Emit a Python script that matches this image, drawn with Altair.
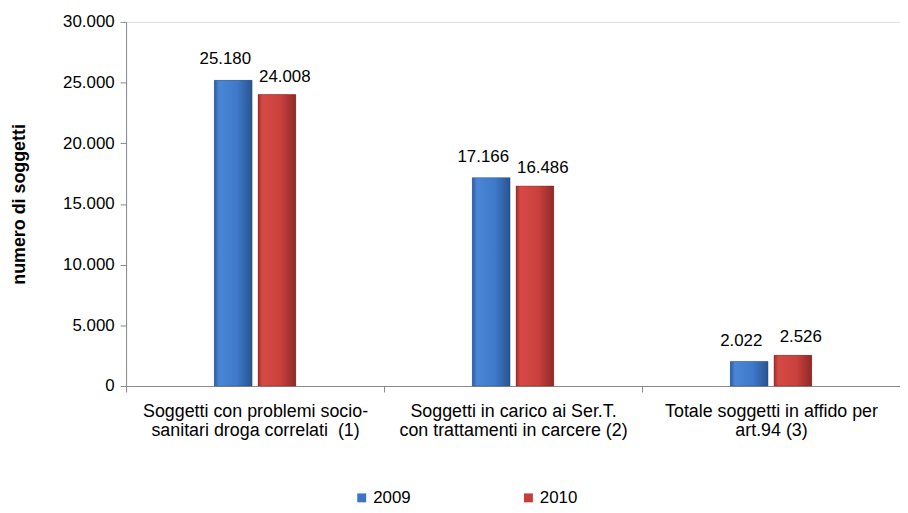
import altair as alt
import pandas as pd

categories = [
    "Soggetti con problemi socio-|sanitari droga correlati \u00a0(1)",
    "Soggetti in carico ai Ser.T.|con trattamenti in carcere (2)",
    "Totale soggetti in affido per|art.94 (3)",
]
years = ["2009", "2010"]
values_2009 = [25180, 17166, 2022]
values_2010 = [24008, 16486, 2526]

rows = []
for c, a, b in zip(categories, values_2009, values_2010):
    rows.append({"cat": c, "year": "2009", "v": a})
    rows.append({"cat": c, "year": "2010", "v": b})
df = pd.DataFrame(rows)

FONT = "Liberation Sans"
FS = 17

color_scale = alt.Scale(domain=years, range=["#3d74c6", "#c63d3a"])

blue_grad = alt.Gradient(
    gradient="linear", x1=0, x2=1, y1=0, y2=0,
    stops=[
        alt.GradientStop(offset=0, color="#2c5ca3"),
        alt.GradientStop(offset=0.12, color="#4a86d6"),
        alt.GradientStop(offset=0.6, color="#3f79ca"),
        alt.GradientStop(offset=1, color="#29548f"),
    ],
)
red_grad = alt.Gradient(
    gradient="linear", x1=0, x2=1, y1=0, y2=0,
    stops=[
        alt.GradientStop(offset=0, color="#a32f2c"),
        alt.GradientStop(offset=0.12, color="#d64a46"),
        alt.GradientStop(offset=0.6, color="#c9403d"),
        alt.GradientStop(offset=1, color="#8f2a27"),
    ],
)

x_enc = alt.X(
    "cat:N",
    sort=categories,
    scale=alt.Scale(paddingInner=0, paddingOuter=0),
    axis=alt.Axis(
        title=None,
        labelAngle=0,
        labelExpr="split(datum.label, '|')",
        labelFont=FONT,
        labelFontSize=18,
        labelColor="#000000",
        labelPadding=11,
        labelLineHeight=19,
        tickBand="extent",
        tickColor="#888888",
        tickSize=6,
        domainColor="#888888",
        labelLimit=300,
    ),
)
xoff_enc = alt.XOffset(
    "year:N",
    sort=years,
    scale=alt.Scale(range=[89, 171], paddingInner=0.136, paddingOuter=0),
)
y_enc = alt.Y(
    "v:Q",
    scale=alt.Scale(domain=[0, 30000]),
    axis=alt.Axis(
        title="numero di soggetti",
        titleFont=FONT,
        titleFontSize=18,
        titleFontWeight="bold",
        titleColor="#000000",
        titlePadding=34,
        values=[0, 5000, 10000, 15000, 20000, 25000, 30000],
        labelExpr="replace(format(datum.value, ','), ',', '.')",
        labelFont=FONT,
        labelFontSize=FS,
        labelColor="#000000",
        labelPadding=6,
        grid=False,
        tickColor="#888888",
        tickSize=6,
        domainColor="#888888",
    ),
)

base = alt.Chart(df).encode(x=x_enc, xOffset=xoff_enc)

bars = base.mark_bar().encode(
    y=y_enc,
    color=alt.Color(
        "year:N",
        scale=color_scale,
        sort=years,
        legend=alt.Legend(
            title=None,
            orient="none",
            direction="horizontal",
            legendX=229,
            legendY=471,
            symbolType="square",
            symbolSize=81,
            symbolStrokeWidth=0,
            labelFont=FONT,
            labelFontSize=FS,
            labelColor="#000000",
            columnPadding=110,
            labelOffset=3,
        ),
    ),
)

blue_bars = base.mark_bar(color=blue_grad, stroke="#1f3f70", strokeOpacity=0.4, strokeWidth=0.8).transform_filter(
    alt.datum.year == "2009"
).encode(y="v:Q")
red_bars = base.mark_bar(color=red_grad, stroke="#6a1c1a", strokeOpacity=0.4, strokeWidth=0.8).transform_filter(
    alt.datum.year == "2010"
).encode(y="v:Q")

lab_2009 = base.mark_text(
    dy=-16, dx=-8, font=FONT, fontSize=FS, color="#000000", baseline="alphabetic"
).transform_filter(alt.datum.year == "2009").transform_calculate(
    lab="replace(format(datum.v, ','), ',', '.')"
).encode(y="v:Q", text="lab:N")

lab_2010 = base.mark_text(
    dy=-13, dx=8, font=FONT, fontSize=FS, color="#000000", baseline="alphabetic"
).transform_filter(alt.datum.year == "2010").transform_calculate(
    lab="replace(format(datum.v, ','), ',', '.')"
).encode(y="v:Q", text="lab:N")

chart = (
    alt.layer(bars, blue_bars, red_bars, lab_2009, lab_2010)
    .properties(
        width=780,
        height=367,
        autosize=alt.AutoSizeParams(type="none"),
        padding={"left": 119, "top": 12, "right": 0, "bottom": 124},
    )
    .configure_view(strokeWidth=0)
    .configure(background="#ffffff")
)

chart.save("out.html", embed_options={"renderer": "svg", "actions": False})
